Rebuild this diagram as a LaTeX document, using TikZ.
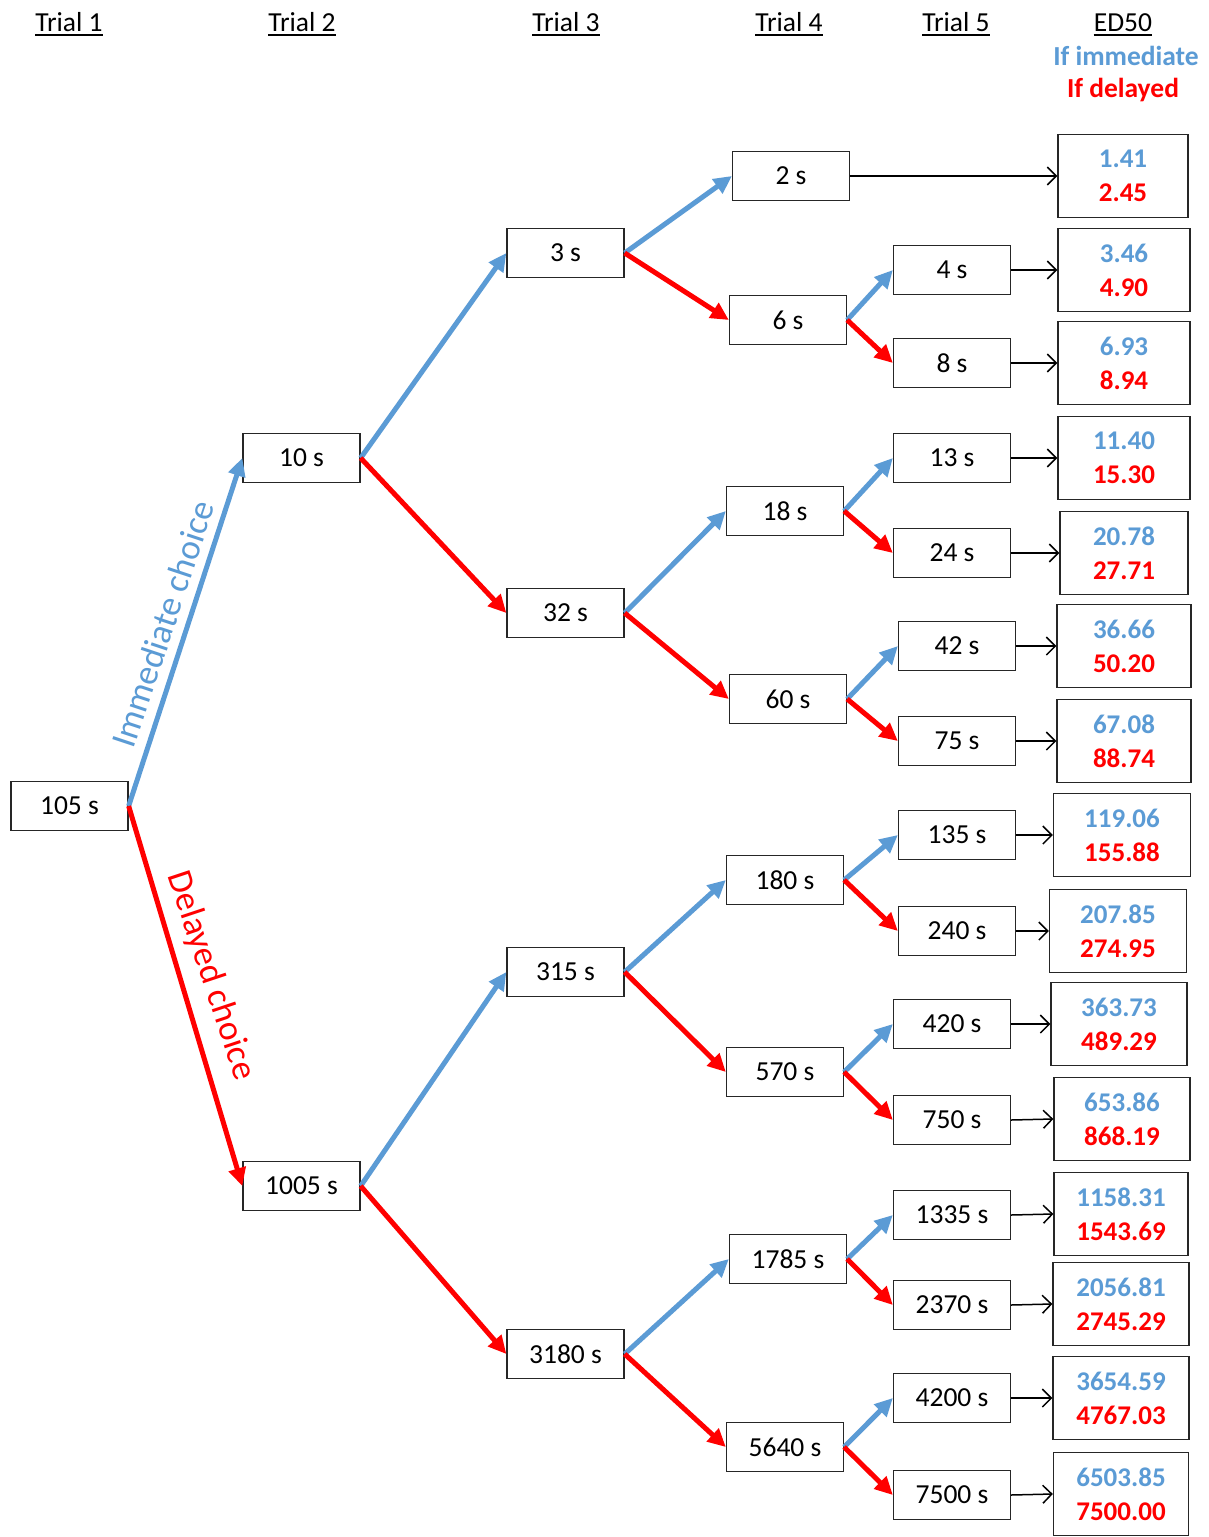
\documentclass[tikz,border=0pt]{standalone}
\usepackage{fontspec}
\setmainfont{Carlito}
\usetikzlibrary{arrows.meta}
\definecolor{ib}{RGB}{91,155,213}
\definecolor{rd}{RGB}{255,0,0}
\begin{document}
\begin{tikzpicture}[x=1pt,y=-1pt,
  box/.style={draw=black!85, line width=1.3pt, minimum width=117pt, minimum height=49pt, inner sep=0pt, font=\fontsize{27.5}{32}\selectfont},
  edbox/.style={draw=black!85, line width=1.3pt, minimum height=83pt, inner sep=0pt, align=center, font=\bfseries\fontsize{27}{34}\selectfont},
  hdr/.style={anchor=base, inner sep=0pt, font=\fontsize{27.5}{32}\selectfont},
  blu/.style={draw=ib, line width=5pt, -{Triangle[length=18pt,width=17pt]}},
  red/.style={draw=rd, line width=5pt, -{Triangle[length=18pt,width=17pt]}},
  blk/.style={draw=black, line width=1.5pt, -{Straight Barb[length=9pt,width=18pt,line width=1.5pt]}},
  uline/.style={line width=1.5pt}
]
\useasboundingbox[fill=white] (0,0) rectangle (1208,1537);

% headers
\node[hdr] (h1) at (69,31) {Trial 1};
\node[hdr] (h2) at (302,31) {Trial 2};
\node[hdr] (h3) at (566,31) {Trial 3};
\node[hdr] (h4) at (789,31) {Trial 4};
\node[hdr] (h5) at (956,31) {Trial 5};
\node[hdr] (h6) at (1123,31) {ED50};
\foreach \h in {h1,h2,h3,h4,h5,h6}{
  \draw[uline] ([yshift=-4pt]\h.base west) -- ([yshift=-4pt]\h.base east);
}
\node[font=\bfseries\fontsize{27.5}{32}\selectfont, text=ib, inner sep=0pt] (limm) at (1126,56) {If immediate};
\node[font=\bfseries\fontsize{27.5}{32}\selectfont, text=rd, inner sep=0pt] (ldel) at (1123,90) {If delayed};

% trial 1
\node[box] (a) at (69.5,806) {105 s};
% trial 2
\node[box] (b1) at (301.5,458) {10 s};
\node[box] (b2) at (301.5,1186) {1005 s};
% trial 3
\node[box] (c1) at (565.5,253) {3 s};
\node[box] (c2) at (565.5,613) {32 s};
\node[box] (c3) at (565.5,972) {315 s};
\node[box] (c4) at (565.5,1354) {3180 s};
% trial 4
\node[box] (d1) at (791,176) {2 s};
\node[box] (d2) at (788,320) {6 s};
\node[box] (d3) at (785,511) {18 s};
\node[box] (d4) at (788,699) {60 s};
\node[box] (d5) at (785,880) {180 s};
\node[box] (d6) at (785,1072) {570 s};
\node[box] (d7) at (788,1259) {1785 s};
\node[box] (d8) at (785,1447) {5640 s};
% trial 5
\node[box] (f1) at (952,270) {4 s};
\node[box] (f2) at (952,363) {8 s};
\node[box] (f3) at (952,458) {13 s};
\node[box] (f4) at (952,553) {24 s};
\node[box] (f5) at (957,646) {42 s};
\node[box] (f6) at (957,741) {75 s};
\node[box] (f7) at (957,835) {135 s};
\node[box] (f8) at (957,931) {240 s};
\node[box] (f9) at (952,1024) {420 s};
\node[box] (f10) at (952,1120) {750 s};
\node[box] (f11) at (952,1215) {1335 s};
\node[box] (f12) at (952,1305) {2370 s};
\node[box] (f13) at (952,1398) {4200 s};
\node[box] (f14) at (952,1495) {7500 s};

% ED50 boxes
\node[edbox, minimum width=130pt] (e1) at (1123,176) {\textcolor{ib}{1.41}\\\textcolor{rd}{2.45}};
\node[edbox, minimum width=132pt] (e2) at (1124,270) {\textcolor{ib}{3.46}\\\textcolor{rd}{4.90}};
\node[edbox, minimum width=132pt] (e3) at (1124,363) {\textcolor{ib}{6.93}\\\textcolor{rd}{8.94}};
\node[edbox, minimum width=132pt] (e4) at (1124,458) {\textcolor{ib}{11.40}\\\textcolor{rd}{15.30}};
\node[edbox, minimum width=128pt] (e5) at (1124,553) {\textcolor{ib}{20.78}\\\textcolor{rd}{27.71}};
\node[edbox, minimum width=134pt] (e6) at (1124,646) {\textcolor{ib}{36.66}\\\textcolor{rd}{50.20}};
\node[edbox, minimum width=134pt] (e7) at (1124,741) {\textcolor{ib}{67.08}\\\textcolor{rd}{88.74}};
\node[edbox, minimum width=137pt] (e8) at (1122,835) {\textcolor{ib}{119.06}\\\textcolor{rd}{155.88}};
\node[edbox, minimum width=137pt] (e9) at (1118,931) {\textcolor{ib}{207.85}\\\textcolor{rd}{274.95}};
\node[edbox, minimum width=136pt] (e10) at (1119,1024) {\textcolor{ib}{363.73}\\\textcolor{rd}{489.29}};
\node[edbox, minimum width=136pt] (e11) at (1122,1119) {\textcolor{ib}{653.86}\\\textcolor{rd}{868.19}};
\node[edbox, minimum width=134pt] (e12) at (1121,1214) {\textcolor{ib}{1158.31}\\\textcolor{rd}{1543.69}};
\node[edbox, minimum width=136pt] (e13) at (1121,1304) {\textcolor{ib}{2056.81}\\\textcolor{rd}{2745.29}};
\node[edbox, minimum width=136pt] (e14) at (1121,1398) {\textcolor{ib}{3654.59}\\\textcolor{rd}{4767.03}};
\node[edbox, minimum width=135pt] (e15) at (1121,1494) {\textcolor{ib}{6503.85}\\\textcolor{rd}{7500.00}};

% branch arrows
\draw[blu] (a.east) -- (b1.west);
\draw[red] (a.east) -- (b2.west);
\draw[blu] (b1.east) -- (c1.west);
\draw[red] (b1.east) -- (c2.west);
\draw[blu] (b2.east) -- (c3.west);
\draw[red] (b2.east) -- (c4.west);
\draw[blu] (c1.east) -- (d1.west);
\draw[red] (c1.east) -- (d2.west);
\draw[blu] (c2.east) -- (d3.west);
\draw[red] (c2.east) -- (d4.west);
\draw[blu] (c3.east) -- (d5.west);
\draw[red] (c3.east) -- (d6.west);
\draw[blu] (c4.east) -- (d7.west);
\draw[red] (c4.east) -- (d8.west);
\draw[blu] (d2.east) -- (f1.west);
\draw[red] (d2.east) -- (f2.west);
\draw[blu] (d3.east) -- (f3.west);
\draw[red] (d3.east) -- (f4.west);
\draw[blu] (d4.east) -- (f5.west);
\draw[red] (d4.east) -- (f6.west);
\draw[blu] (d5.east) -- (f7.west);
\draw[red] (d5.east) -- (f8.west);
\draw[blu] (d6.east) -- (f9.west);
\draw[red] (d6.east) -- (f10.west);
\draw[blu] (d7.east) -- (f11.west);
\draw[red] (d7.east) -- (f12.west);
\draw[blu] (d8.east) -- (f13.west);
\draw[red] (d8.east) -- (f14.west);

% to ED50
\draw[blk] (d1.east) -- (e1.west);
\draw[blk] (f1.east) -- (e2.west);
\draw[blk] (f2.east) -- (e3.west);
\draw[blk] (f3.east) -- (e4.west);
\draw[blk] (f4.east) -- (e5.west);
\draw[blk] (f5.east) -- (e6.west);
\draw[blk] (f6.east) -- (e7.west);
\draw[blk] (f7.east) -- (e8.west);
\draw[blk] (f8.east) -- (e9.west);
\draw[blk] (f9.east) -- (e10.west);
\draw[blk] (f10.east) -- (e11.west);
\draw[blk] (f11.east) -- (e12.west);
\draw[blk] (f12.east) -- (e13.west);
\draw[blk] (f13.east) -- (e14.west);
\draw[blk] (f14.east) -- (e15.west);

% branch labels
\node[text=ib, rotate=71.6, inner sep=0pt, font=\fontsize{35.5}{40}\selectfont] (limmc) at (163,624) {Immediate choice};
\node[text=rd, rotate=-71.6, inner sep=0pt, font=\fontsize{35.5}{40}\selectfont] (ldelc) at (211,976) {Delayed choice};
\end{tikzpicture}
\end{document}
